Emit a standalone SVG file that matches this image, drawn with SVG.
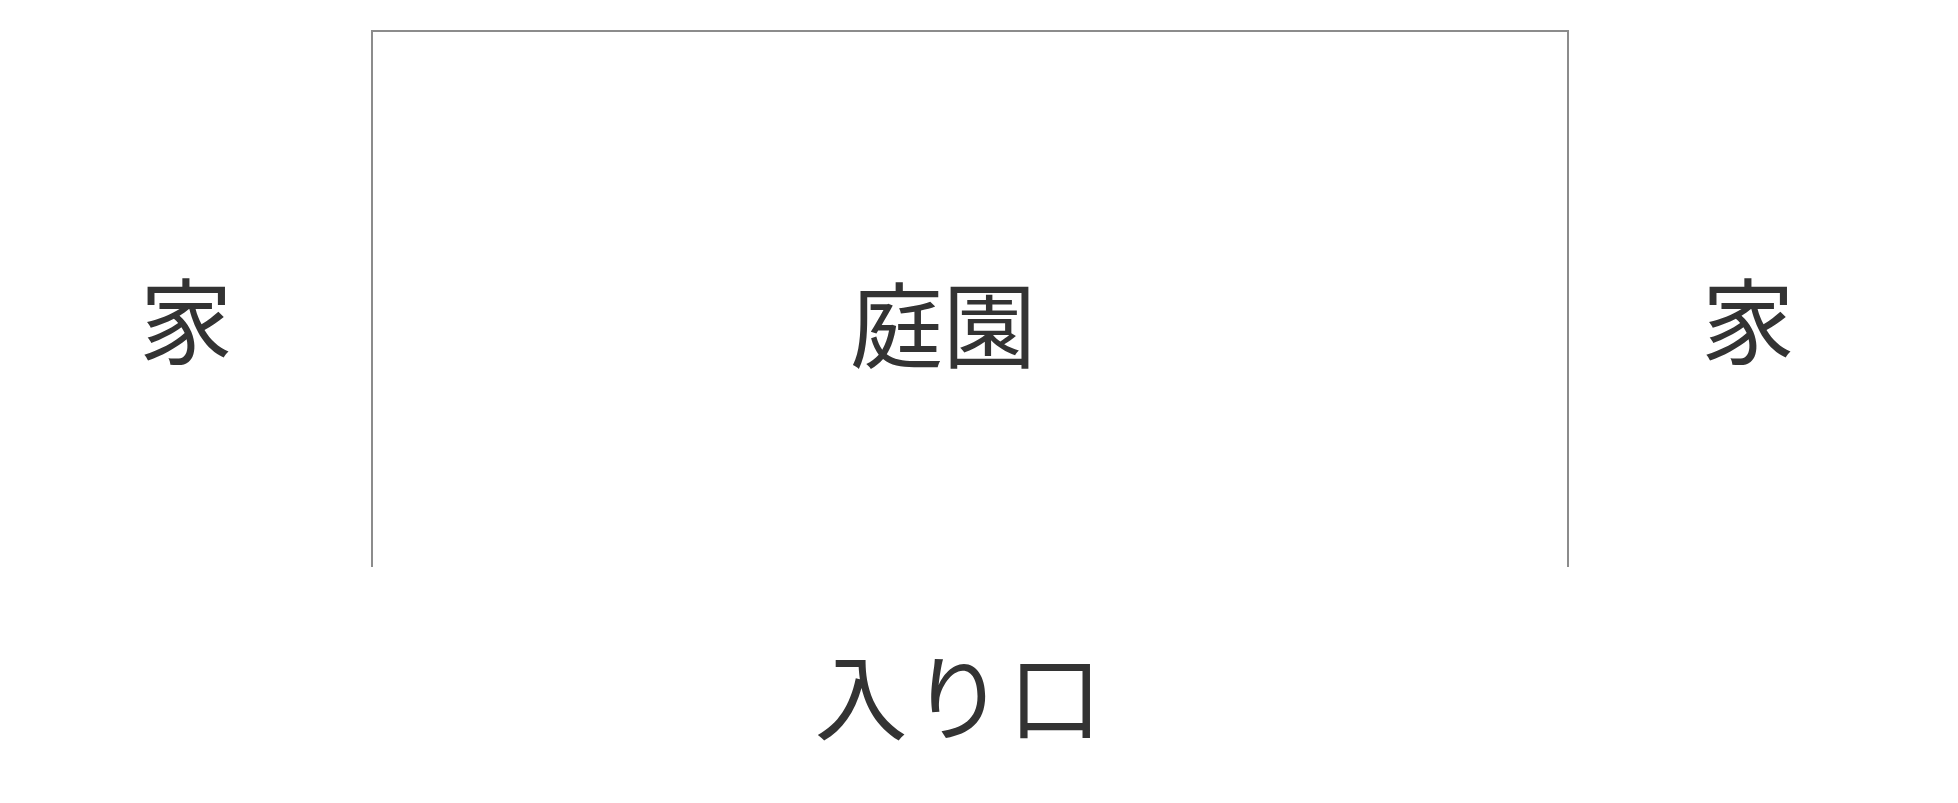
<svg xmlns="http://www.w3.org/2000/svg" width="1958" height="803" viewBox="0 0 1958 803">
<style>
.lbl{font-family:"Noto Sans CJK JP","Noto Sans CJK SC",sans-serif;font-size:93px;fill:#333333;text-anchor:middle}
.wall{fill:none;stroke:#8c8c8c;stroke-width:2}
</style>
<rect x="0" y="0" width="1958" height="803" fill="#ffffff"/>
<g id="connectors">
<path class="wall" d="M372 567 V31 H1568 V567"/>
</g>
<g id="garden"><text class="lbl" x="943" y="361">庭園</text></g>
<g id="house-left"><text class="lbl" x="186" y="357">家</text></g>
<g id="house-right"><text class="lbl" x="1748" y="357">家</text></g>
<g id="entrance"><text class="lbl" x="960" y="733" letter-spacing="4">入り口</text></g>
</svg>
